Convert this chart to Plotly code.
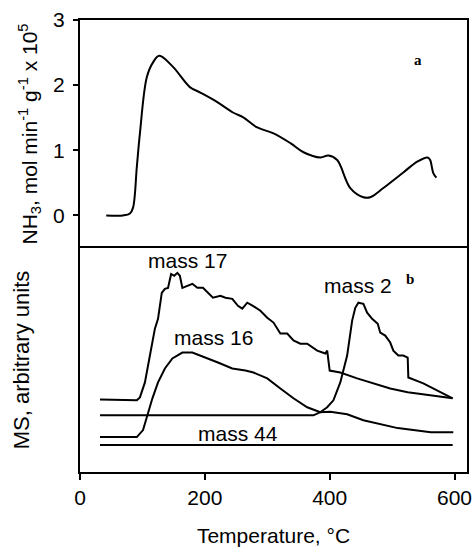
import plotly.graph_objects as go

# Panel a: NH3 desorption rate
t_a = [42, 69, 80, 85, 91, 96, 107, 117, 127, 149, 176, 192, 220, 245, 261, 284, 310,
       337, 358, 385, 398, 412, 433, 454, 465, 486, 518, 541, 557, 561, 566, 571]
v_a = [0.0, 0.0, 0.03, 0.12, 0.74, 1.26, 2.12, 2.35, 2.45, 2.28, 1.97, 1.89, 1.74, 1.58,
       1.51, 1.35, 1.26, 1.11, 0.97, 0.89, 0.92, 0.85, 0.42, 0.28, 0.28, 0.42, 0.66, 0.83,
       0.89, 0.85, 0.65, 0.58]

# Panel b: MS signals (arbitrary units)
t_17 = [32, 85, 91, 96, 104, 112, 120, 125, 131, 136, 141, 146, 151, 156, 160, 164, 172,
        180, 188, 197, 205, 213, 225, 233, 244, 253, 260, 268, 277, 289, 300, 310, 321,
        332, 342, 353, 364, 380, 393, 396, 400, 417, 444, 470, 497, 525, 550, 577, 597]
v_17 = [3.24, 3.2, 3.2, 3.33, 4.0, 5.2, 6.4, 6.84, 8.0, 8.18, 8.22, 8.84, 8.76, 8.89, 8.76,
        8.22, 8.31, 8.4, 8.22, 8.22, 8.0, 7.78, 7.87, 7.78, 7.73, 7.42, 7.29, 7.56, 7.42,
        7.2, 6.89, 6.67, 6.18, 6.18, 5.87, 5.73, 5.73, 5.42, 5.29, 5.42, 4.53, 4.44, 4.18,
        3.96, 3.73, 3.56, 3.47, 3.38, 3.29]

t_16 = [32, 91, 101, 108, 116, 125, 136, 148, 164, 180, 201, 221, 244, 265, 278, 300, 321,
        342, 364, 385, 401, 428, 454, 509, 562, 598]
v_16 = [1.56, 1.56, 1.87, 2.53, 3.29, 4.0, 4.62, 5.07, 5.33, 5.33, 5.11, 4.89, 4.62, 4.53,
        4.44, 4.18, 3.73, 3.29, 2.89, 2.67, 2.69, 2.58, 2.31, 1.96, 1.78, 1.78]

t_2 = [32, 374, 385, 396, 406, 417, 428, 436, 441, 446, 454, 460, 468, 477, 481, 489, 497,
       502, 510, 518, 525, 526, 550, 578, 597]
v_2 = [2.53, 2.53, 2.67, 2.89, 3.2, 4.0, 5.2, 6.76, 7.33, 7.56, 7.51, 7.11, 6.84, 6.62, 6.22,
       6.09, 5.78, 5.42, 5.2, 5.2, 5.11, 4.22, 3.96, 3.56, 3.29]

t_44 = [32, 597]
v_44 = [1.2, 1.2]

x_ticks = [0, 200, 400, 600]
y_ticks_a = [0, 1, 2, 3]

FONT = "Liberation Sans, Arial, sans-serif"
line = dict(color="black", width=2)

fig = go.Figure()
fig.add_trace(go.Scatter(x=t_a, y=v_a, mode="lines", line=line, line_shape="spline",
                         xaxis="x2", yaxis="y2", showlegend=False))
for tx, vy in [(t_17, v_17), (t_16, v_16), (t_2, v_2), (t_44, v_44)]:
    fig.add_trace(go.Scatter(x=tx, y=vy, mode="lines", line=line,
                             xaxis="x", yaxis="y", showlegend=False))

split = (472 - 248) / 452

fig.update_layout(
    width=473, height=547,
    margin=dict(l=80, r=6, t=20, b=75),
    paper_bgcolor="white", plot_bgcolor="white",
    font=dict(family=FONT, size=21, color="black"),
    xaxis=dict(domain=[0, 1], range=[0, 620], tickvals=x_ticks, ticks="outside",
               ticklen=6, tickwidth=1.5, tickcolor="black", showgrid=False, zeroline=False,
               showline=True, linecolor="black", linewidth=2, mirror=True, automargin=False,
               title=dict(text="Temperature, °C", font=dict(size=21), standoff=26),
               anchor="y", tickfont=dict(size=21)),
    yaxis=dict(domain=[0, split], range=[0, 10], showticklabels=False, ticks="",
               showgrid=False, zeroline=False, showline=True, linecolor="black",
               linewidth=2, mirror=True, anchor="x", automargin=False,
               title=dict(text="MS, arbitrary units", font=dict(size=22), standoff=42)),
    xaxis2=dict(domain=[0, 1], range=[0, 620], showticklabels=False, ticks="",
                showgrid=False, zeroline=False, showline=True, linecolor="black",
                linewidth=2, mirror=False, side="top", anchor="y2", matches="x",
                automargin=False),
    yaxis2=dict(domain=[split, 1], range=[-0.5, 3], tickvals=y_ticks_a, ticks="outside",
                ticklen=5, tickwidth=1.5, tickcolor="black", showgrid=False, zeroline=False,
                showline=True, linecolor="black", linewidth=2, mirror=True, anchor="x2",
                tickfont=dict(size=21), ticklabelstandoff=4, automargin=False,
                title=dict(text="NH<sub>3</sub>, mol min<sup>-1</sup> g<sup>-1</sup> x 10<sup>5</sup>",
                           font=dict(size=21), standoff=10)),
)

ann = [
    dict(x=172, y=9.42, text="mass 17", xref="x", yref="y"),
    dict(x=214, y=6.0, text="mass 16", xref="x", yref="y"),
    dict(x=445, y=8.31, text="mass 2", xref="x", yref="y"),
    dict(x=253, y=1.73, text="mass 44", xref="x", yref="y"),
]
for a in ann:
    fig.add_annotation(**a, showarrow=False, font=dict(family=FONT, size=21, color="black"))
fig.add_annotation(x=541, y=2.39, text="<b>a</b>", xref="x2", yref="y2", showarrow=False,
                   font=dict(family="Liberation Serif, Times New Roman, serif", size=15, color="black"))
fig.add_annotation(x=528, y=8.62, text="<b>b</b>", xref="x", yref="y", showarrow=False,
                   font=dict(family="Liberation Serif, Times New Roman, serif", size=15, color="black"))

fig.write_html("out.html")
